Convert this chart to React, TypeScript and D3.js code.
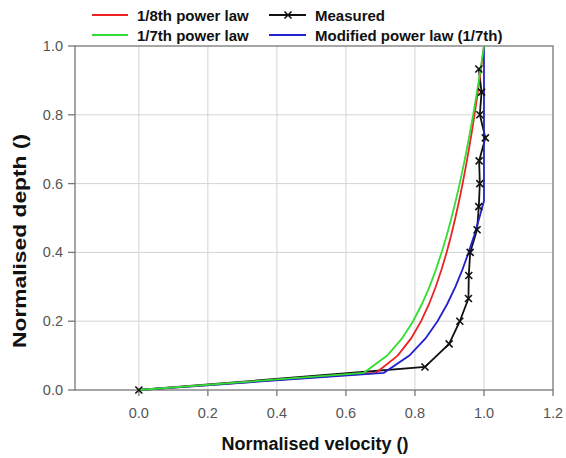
import React from "react";
import * as d3 from "d3";

const depth = [0, 0.05, 0.1, 0.15, 0.2, 0.25, 0.3, 0.35, 0.4, 0.45, 0.5, 0.55, 0.6, 0.65, 0.7, 0.75, 0.8, 0.85, 0.9, 0.95, 1.0];
const vel8th = [0, 0.6877, 0.7499, 0.7889, 0.8178, 0.8409, 0.8603, 0.877, 0.8918, 0.905, 0.917, 0.928, 0.9381, 0.9476, 0.9564, 0.9647, 0.9725, 0.9799, 0.9869, 0.9936, 1.0];
const vel7th = [0, 0.6518, 0.7197, 0.7626, 0.7946, 0.8203, 0.842, 0.8607, 0.8773, 0.8922, 0.9057, 0.9181, 0.9296, 0.9403, 0.9503, 0.9597, 0.9686, 0.977, 0.9851, 0.9927, 1.0];
const velModified = [0, 0.71, 0.7839, 0.8306, 0.8654, 0.8935, 0.9171, 0.9375, 0.9555, 0.9717, 0.9865, 1.0, 1.0, 1.0, 1.0, 1.0, 1.0, 1.0, 1.0, 1.0, 1.0];

const measuredDepth = [0, 0.067, 0.134, 0.2, 0.266, 0.333, 0.4, 0.466, 0.533, 0.6, 0.666, 0.733, 0.8, 0.866, 0.933];
const measuredVel = [0, 0.829, 0.899, 0.93, 0.955, 0.956, 0.96, 0.98, 0.985, 0.988, 0.986, 1.004, 0.988, 0.993, 0.985];

const xTicks = [0, 0.2, 0.4, 0.6, 0.8, 1.0, 1.2];
const yTicks = [0, 0.2, 0.4, 0.6, 0.8, 1.0];

const W = 566;
const H = 458;
const left = 75, right = 553, top = 46, bottom = 390;

export default function App() {
  const x = d3.scaleLinear().domain([-0.185, 1.2]).range([left, right]);
  const y = d3.scaleLinear().domain([0, 1]).range([bottom, top]);
  const line = d3
    .line<[number, number]>()
    .x((d) => x(d[0]))
    .y((d) => y(d[1]));

  const mk = (vs: number[], ds: number[]) => vs.map((v, i) => [v, ds[i]] as [number, number]);

  const series = [
    { name: "measured", color: "#111", pts: mk(measuredVel, measuredDepth) },
    { name: "8th", color: "#ee2222", pts: mk(vel8th, depth) },
    { name: "mod", color: "#2222cc", pts: mk(velModified, depth) },
    { name: "7th", color: "#33dd33", pts: mk(vel7th, depth) },
  ];

  const font = "Arial, 'Liberation Sans', sans-serif";
  const cross = (cx: number, cy: number, k: string) => (
    <path
      key={k}
      d={`M${cx - 3.5},${cy - 3.5}L${cx + 3.5},${cy + 3.5}M${cx - 3.5},${cy + 3.5}L${cx + 3.5},${cy - 3.5}`}
      stroke="#111"
      strokeWidth={1.6}
      fill="none"
    />
  );

  return (
    <svg width={W} height={H} style={{ position: "absolute", left: 0, top: 0, background: "#fff" }} fontFamily={font}>
      {/* grid */}
      {xTicks.filter((t) => t < 1.2).map((t) => (
        <line key={"gx" + t} x1={x(t)} x2={x(t)} y1={top} y2={bottom} stroke="#d4d4d4" strokeWidth={1} />
      ))}
      {yTicks.filter((t) => t > 0 && t < 1).map((t) => (
        <line key={"gy" + t} x1={left} x2={right} y1={y(t)} y2={y(t)} stroke="#d4d4d4" strokeWidth={1} />
      ))}
      {/* frame */}
      <rect x={left} y={top} width={right - left} height={bottom - top} fill="none" stroke="#777" strokeWidth={1.3} />
      {/* ticks */}
      {xTicks.map((t) => (
        <g key={"tx" + t}>
          <line x1={x(t)} x2={x(t)} y1={bottom} y2={bottom + 6} stroke="#777" strokeWidth={1.3} />
          <text x={x(t)} y={418} textAnchor="middle" fontSize={14.5} fill="#555">
            {d3.format(".1f")(t)}
          </text>
        </g>
      ))}
      {yTicks.map((t) => (
        <g key={"ty" + t}>
          <line x1={left - 7} x2={left} y1={y(t)} y2={y(t)} stroke="#777" strokeWidth={1.3} />
          <text x={63} y={y(t) + 5} textAnchor="end" fontSize={14.5} fill="#555">
            {d3.format(".1f")(t)}
          </text>
        </g>
      ))}
      {/* series */}
      {series.map((s) => (
        <path key={s.name} d={line(s.pts) || ""} fill="none" stroke={s.color} strokeWidth={1.8} />
      ))}
      {series[0].pts.map((p, i) => cross(x(p[0]), y(p[1]), "m" + i))}
      {/* axis titles */}
      <text x={315} y={450} textAnchor="middle" fontSize={18} fontWeight="bold" fill="#111">
        Normalised velocity ()
      </text>
      <text
        transform={`translate(26,241) rotate(-90)`}
        textAnchor="middle"
        fontSize={18}
        fontWeight="bold"
        fill="#111"
        textLength={214}
        lengthAdjust="spacingAndGlyphs"
      >
        Normalised depth ()
      </text>
      {/* legend */}
      <line x1={92} x2={128} y1={15} y2={15} stroke="#ee2222" strokeWidth={1.8} />
      <text x={137} y={20.5} fontSize={15} fontWeight="bold" fill="#111">1/8th power law</text>
      <line x1={92} x2={128} y1={35} y2={35} stroke="#33dd33" strokeWidth={1.8} />
      <text x={137} y={40.5} fontSize={15} fontWeight="bold" fill="#111">1/7th power law</text>
      <line x1={269} x2={306} y1={15} y2={15} stroke="#111" strokeWidth={1.8} />
      {cross(288, 15, "lg")}
      <text x={315} y={20.5} fontSize={15} fontWeight="bold" fill="#111">Measured</text>
      <line x1={269} x2={306} y1={35} y2={35} stroke="#2222cc" strokeWidth={1.8} />
      <text x={315} y={40.5} fontSize={15} fontWeight="bold" fill="#111">Modified power law (1/7th)</text>
    </svg>
  );
}
